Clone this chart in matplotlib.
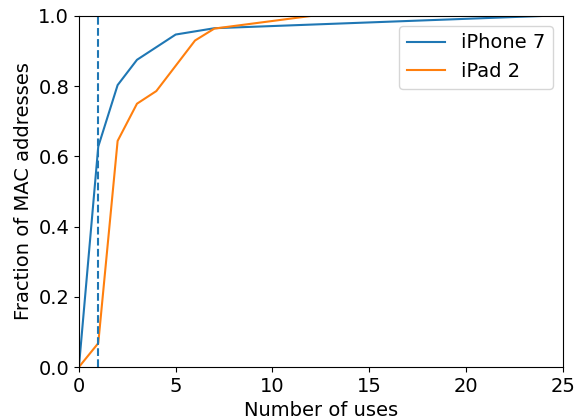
import matplotlib
matplotlib.use("Agg")
import matplotlib.pyplot as plt

# cumulative fraction of MAC addresses vs number of uses
iphone_uses = [0, 1, 2, 3, 5, 7, 24]
iphone_frac = [0.0, 0.628, 0.803, 0.875, 0.947, 0.965, 1.0]
ipad_uses = [0, 1, 2, 3, 4, 6, 7, 12]
ipad_frac = [0.0, 0.068, 0.644, 0.75, 0.786, 0.93, 0.964, 1.0]
threshold = 1

fig = plt.figure(figsize=(5.76, 4.19), dpi=100)
ax = fig.add_axes([0.137, 0.124, 0.840, 0.838])

ax.plot(iphone_uses, iphone_frac, color="C0", lw=1.5, label="iPhone 7")
ax.plot(ipad_uses, ipad_frac, color="C1", lw=1.5, label="iPad 2")
ax.axvline(threshold, color="C0", ls="--", lw=1.5)

ax.set_xlim(0, 25)
ax.set_ylim(0, 1)
ax.set_xticks([0, 5, 10, 15, 20, 25])
ax.set_yticks([0.0, 0.2, 0.4, 0.6, 0.8, 1.0])
ax.tick_params(labelsize=14)
ax.set_xlabel("Number of uses", fontsize=14)
ax.set_ylabel("Fraction of MAC addresses", fontsize=14)
ax.legend(loc="upper right", fontsize=14)

fig.savefig("out.png", dpi=100)
